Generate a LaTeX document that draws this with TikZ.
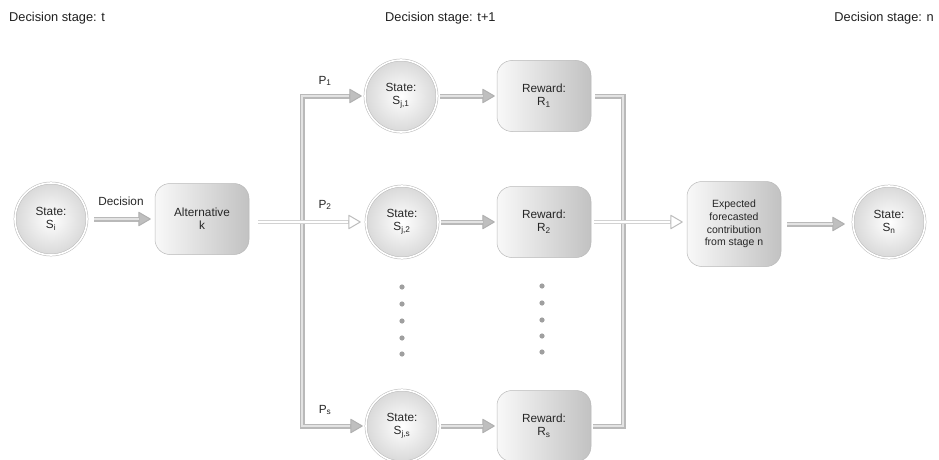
\documentclass[tikz,border=0pt]{standalone}
\usepackage{fontspec}
\setmainfont{Liberation Sans}
\usetikzlibrary{arrows.meta}
\newcommand\gtube[4]{%
  \draw[tubeout, fullhead, shorten <=#3, shorten >=#4] #1 -- #2;
  \draw[tubein, shorten <=#3, shorten >=#4+12pt] #1 -- #2;}
\newcommand\wtube[4]{%
  \draw[wtubeout, openhead, shorten <=#3, shorten >=#4] #1 -- #2;
  \draw[wtubein, shorten <=#3, shorten >=#4+13pt] #1 -- #2;}
\begin{document}
\begin{tikzpicture}[x=1pt,y=-1pt,
  nodefont/.style={font=\fontsize{11.8}{12.8}\selectfont, text=black!85},
  txt/.style={nodefont, inner sep=0pt},
  hdr/.style={font=\fontsize{12.8}{14}\selectfont, text=black!88, inner sep=0pt},
  statenode/.style={circle, minimum size=72pt, inner sep=0pt, draw=gray!55, line width=0.5pt,
    double=white, double distance=1.6pt, inner color=white, outer color=gray!30,
    align=center, nodefont},
  boxnode/.style={rectangle, rounded corners=15pt, minimum width=94pt, minimum height=71pt,
    inner sep=0pt, draw=gray!55, line width=0.5pt, left color=gray!5, right color=gray!48,
    align=center, nodefont},
  tubeout/.style={draw=gray!55, line width=5pt},
  tubein/.style={draw=gray!22, line width=2.2pt},
  wtubeout/.style={draw=gray!35, line width=4.6pt},
  wtubein/.style={draw=white, line width=2.4pt},
  >={Triangle[length=13pt,width=15pt,round,line width=1pt,color=gray!62,fill=gray!50]},
  fullhead/.style={->},
  openhead/.style={-{Triangle[length=13pt,width=15pt,round,line width=1pt,color=gray!52,fill=white]}},
  dotmark/.style={fill=gray!75}
]
\useasboundingbox (0,0) rectangle (939,460);

% headers
\node[hdr, anchor=base west] (h1) at (9,21.5) {Decision stage: t};
\node[hdr, anchor=base west] (h2) at (385,21.5) {Decision stage: t+1};
\node[hdr, anchor=base east] (h3) at (934,21.5) {Decision stage: n};

% nodes
\node[statenode] (si) at (51,219) {State:\\S\textsubscript{i}};
\node[boxnode] (alt) at (202,219) {Alternative\\k};
\node[statenode] (sj1) at (401,96) {State:\\S\textsubscript{j,1}};
\node[boxnode] (r1) at (544,96) {Reward:\\R\textsubscript{1}};
\node[statenode] (sj2) at (402,222) {State:\\S\textsubscript{j,2}};
\node[boxnode] (r2) at (544,222) {Reward:\\R\textsubscript{2}};
\node[statenode] (sjs) at (402,426) {State:\\S\textsubscript{j,s}};
\node[boxnode] (rs) at (544,426) {Reward:\\R\textsubscript{s}};
\node[boxnode, minimum height=85pt, font=\fontsize{10.5}{12.7}\selectfont] (exp) at (734,224)
  {Expected\\forecasted\\contribution\\from stage n};
\node[statenode] (sn) at (889,222) {State:\\S\textsubscript{n}};

% junction coordinates
\coordinate (jl1) at (302,96);
\coordinate (jls) at (302,426);
\coordinate (jr1) at (623,96);
\coordinate (jrs) at (623,426);

% left bracket
\draw[tubeout, <->, line join=miter, shorten <=3pt, shorten >=3pt]
  (sj1.west) -- (jl1) -- (jls) -- (sjs.west);
\draw[tubein, line join=miter, shorten <=16pt, shorten >=16pt]
  (sj1.west) -- (jl1) -- (jls) -- (sjs.west);

% right bracket
\draw[tubeout, line join=miter, shorten <=4pt, shorten >=2pt]
  (r1.east) -- (jr1) -- (jrs) -- (rs.east);
\draw[tubein, line join=miter, shorten <=4pt, shorten >=2pt]
  (r1.east) -- (jr1) -- (jrs) -- (rs.east);

% straight arrows
\gtube{(si.east)}{(alt.west)}{7pt}{4pt}
\gtube{(sj1.east)}{(r1.west)}{3pt}{2pt}
\gtube{(sj2.east)}{(r2.west)}{3pt}{2pt}
\gtube{(sjs.east)}{(rs.west)}{3pt}{2pt}
\gtube{(exp.east)}{(exp.east -| sn.west)}{6pt}{8pt}

% white tubes
\wtube{(alt.east |- sj2)}{(sj2.west)}{9pt}{5pt}
\wtube{(r2.east)}{(r2.east -| exp.west)}{3pt}{4pt}

% labels
\node[txt] (ldec) at (121,201) {Decision};
\node[txt] (lp1) at (325,81) {P\textsubscript{1}};
\node[txt] (lp2) at (325,205) {P\textsubscript{2}};
\node[txt] (lps) at (325,410) {P\textsubscript{s}};

% ellipsis dots
\foreach \y in {287,304,321,338,354} \fill[dotmark] (402,\y) circle (2.6pt);
\foreach \y in {286,303,320,336,352} \fill[dotmark] (542,\y) circle (2.6pt);
\end{tikzpicture}
\end{document}
